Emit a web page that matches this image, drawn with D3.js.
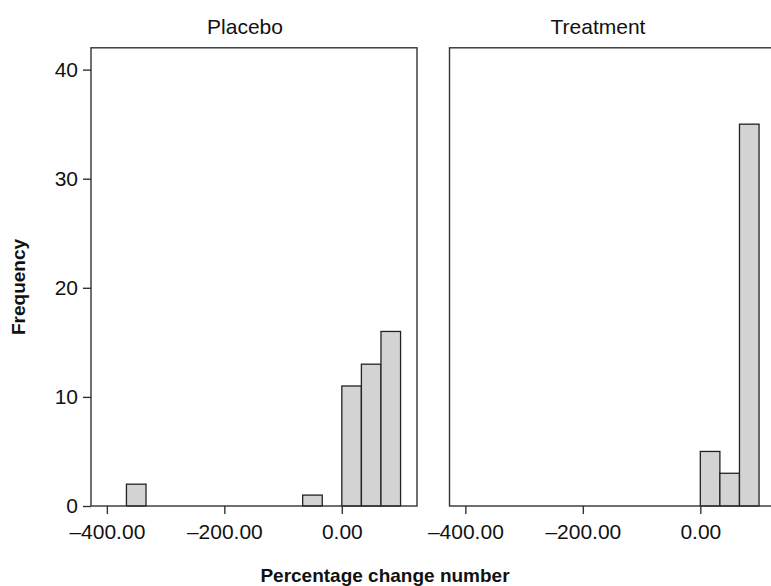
<!DOCTYPE html>
<html>
<head>
<meta charset="utf-8">
<script src="https://cdn.jsdelivr.net/npm/d3@7"></script>
<style>
  body { margin: 0; background: #fff; }
  svg { display: block; font-family: "Liberation Sans", Arial, sans-serif; }
</style>
</head>
<body>
<div id="chart"></div>
<script>
// panel names
var panels = ["Placebo", "Treatment"];

// histogram bins (left edge, right edge) and counts per panel
var placeboLo = [-366.67, -66.67, 0, 33.33, 66.67];
var placeboHi = [-333.33, -33.33, 33.33, 66.67, 100];
var placeboCount = [2, 1, 11, 13, 16];

var treatmentLo = [0, 33.33, 66.67];
var treatmentHi = [33.33, 66.67, 100];
var treatmentCount = [5, 3, 35];

// ticks
var xTicks = [-400, -200, 0];
var xTickLabels = ["\u2013400.00", "\u2013200.00", "0.00"];
var yTicks = [0, 10, 20, 30, 40];

var W = 771, H = 586;

var svg = d3.select("#chart").append("svg")
    .attr("width", W)
    .attr("height", H);

var y = d3.scaleLinear().domain([0, 42]).range([506, 47.8]);
var xDomain = [-427, 128];
var panelRange = [[91, 417], [449.5, 775.5]];

var series = [
  {lo: placeboLo, hi: placeboHi, n: placeboCount},
  {lo: treatmentLo, hi: treatmentHi, n: treatmentCount}
];

var titleX = [245, 598];

panels.forEach(function(name, p){
  var x = d3.scaleLinear().domain(xDomain).range(panelRange[p]);
  var g = svg.append("g");

  // bars
  var s = series[p];
  var bars = s.n.map(function(d, i){ return {lo: s.lo[i], hi: s.hi[i], n: d}; });
  g.selectAll("rect.bar")
    .data(bars)
    .enter()
    .append("rect")
    .attr("class", "bar")
    .attr("x", function(d){ return x(d.lo); })
    .attr("width", function(d){ return x(d.hi) - x(d.lo); })
    .attr("y", function(d){ return y(d.n); })
    .attr("height", function(d){ return y(0) - y(d.n); })
    .attr("fill", "#d3d3d3")
    .attr("stroke", "#222")
    .attr("stroke-width", 1.3);

  // frame
  g.append("rect")
    .attr("x", x.range()[0])
    .attr("y", y(42))
    .attr("width", x.range()[1] - x.range()[0])
    .attr("height", y(0) - y(42))
    .attr("fill", "none")
    .attr("stroke", "#333")
    .attr("stroke-width", 1.4);

  // x axis
  var xa = g.append("g")
    .attr("transform", "translate(0," + y(0) + ")")
    .call(d3.axisBottom(x).tickValues(xTicks)
      .tickFormat(function(d, i){ return xTickLabels[i]; })
      .tickSize(8).tickPadding(10));
  xa.select(".domain").remove();
  xa.selectAll("line").attr("stroke", "#333").attr("stroke-width", 1.4);
  xa.selectAll("text").attr("fill", "#111").style("font-size", "21px");

  // y axis only on first panel
  if(p == 0){
    var ya = g.append("g")
      .attr("transform", "translate(" + x.range()[0] + ",0)")
      .call(d3.axisLeft(y).tickValues(yTicks).tickSize(8).tickPadding(5));
    ya.select(".domain").remove();
    ya.selectAll("line").attr("stroke", "#333").attr("stroke-width", 1.4);
    ya.selectAll("text").attr("fill", "#111").style("font-size", "21px");
  }

  // panel title
  g.append("text")
    .text(name)
    .attr("x", titleX[p])
    .attr("y", 34)
    .attr("text-anchor", "middle")
    .attr("fill", "#111")
    .style("font-size", "21px");
});

// axis titles
svg.append("text")
  .text("Frequency")
  .attr("transform", "translate(25,287) rotate(-90)")
  .attr("text-anchor", "middle")
  .attr("fill", "#111")
  .style("font-size", "19px")
  .style("font-weight", "bold");

svg.append("text")
  .text("Percentage change number")
  .attr("x", 385)
  .attr("y", 582)
  .attr("text-anchor", "middle")
  .attr("fill", "#111")
  .style("font-size", "19px")
  .style("font-weight", "bold");
</script>
</body>
</html>
